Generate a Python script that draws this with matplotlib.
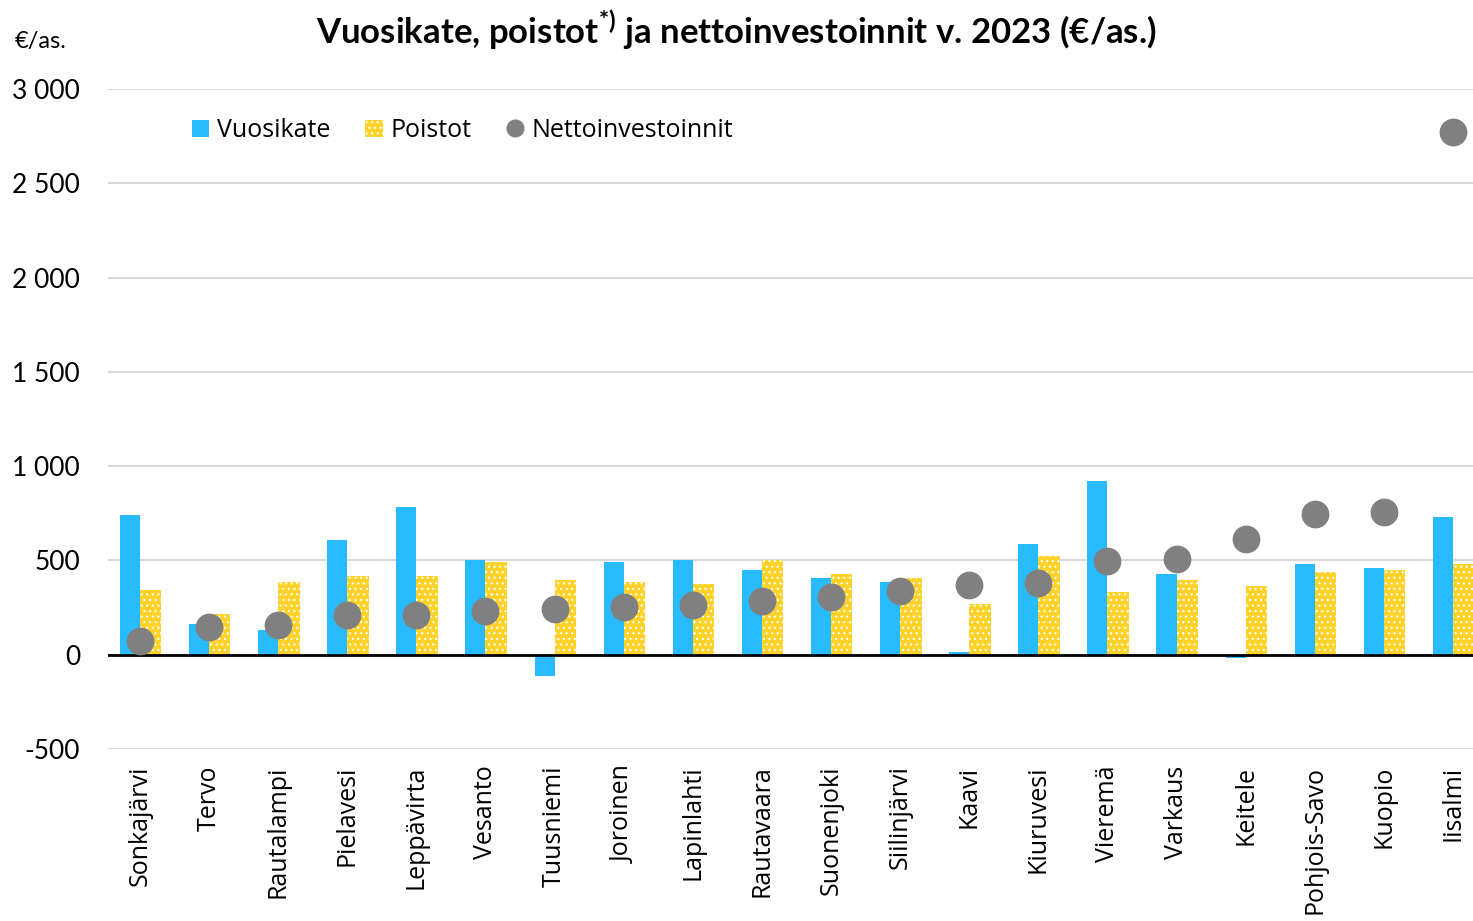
import numpy as np
import matplotlib
matplotlib.use("Agg")
import matplotlib.pyplot as plt
from matplotlib.lines import Line2D
from matplotlib.patches import Patch

# data (€/asukas)
kunnat = ["Sonkajärvi", "Tervo", "Rautalampi", "Pielavesi", "Leppävirta", "Vesanto",
          "Tuusniemi", "Joroinen", "Lapinlahti", "Rautavaara", "Suonenjoki", "Siilinjärvi",
          "Kaavi", "Kiuruvesi", "Vieremä", "Varkaus", "Keitele", "Pohjois-Savo", "Kuopio", "Iisalmi"]
vuosikate = [739, 162, 130, 610, 781, 503, -114, 493, 503, 450, 407, 386,
             13, 589, 920, 429, -18, 482, 461, 728]
poistot = [344, 215, 386, 418, 418, 493, 397, 386, 375, 503, 429, 407,
           269, 525, 333, 397, 365, 440, 450, 482]
nettoinv = [71, 147, 156, 210, 210, 231, 242, 253, 263, 285, 306, 338,
            370, 381, 498, 509, 616, 744, 755, 2770]
y_ticks = [-500, 0, 500, 1000, 1500, 2000, 2500, 3000]

blue = "#29BBFF"
yellow = "#FFD22A"
grey = "#808080"

plt.rcParams['font.family'] = ['Open Sans', 'DejaVu Sans']
plt.rcParams['hatch.color'] = 'white'
plt.rcParams['hatch.linewidth'] = 0.8
plt.rcParams['mathtext.fontset'] = 'custom'
plt.rcParams['mathtext.rm'] = 'Lato'
plt.rcParams['mathtext.bf'] = 'Lato:bold'

fig = plt.figure(figsize=(14.73, 9.21), dpi=100)
ax = fig.add_axes([0.0733, 0.1868, 0.9267, 0.7166])

x = np.arange(len(kunnat))
w = 0.29
ax.bar(x - w / 2, vuosikate, width=w, color=blue, zorder=2)
ax.bar(x + w / 2 + 0.01, poistot, width=w + 0.02, color=yellow, hatch='...',
       edgecolor='white', linewidth=0, zorder=2)
ax.plot(x, nettoinv, 'o', color=grey, markersize=19, zorder=3)

ax.set_ylim(-500, 3000)
ax.set_xlim(-0.463, 19.29)
ax.set_yticks(y_ticks)
ax.set_yticklabels([f"{v:,}".replace(",", " ") for v in y_ticks], fontsize=19, family='Lato')
ax.set_xticks(x)
ax.set_xticklabels(kunnat, rotation=90, fontsize=18)
ax.tick_params(length=0)
ax.tick_params(axis='y', pad=20)
ax.tick_params(axis='x', pad=12)

for s in ax.spines.values():
    s.set_visible(False)
ax.grid(axis='y', color='#D9D9D9', linewidth=1.5, zorder=0)
ax.set_axisbelow(True)
ax.axhline(0, color='black', linewidth=2, zorder=2.5)

handles = [Patch(facecolor=blue, label="Vuosikate"),
           Patch(facecolor=yellow, hatch='...', edgecolor='white', linewidth=0, label="Poistot"),
           Line2D([], [], marker='o', linestyle='none', color=grey, markersize=12,
                  label="Nettoinvestoinnit")]
ax.legend(handles=handles, loc='upper left', bbox_to_anchor=(0.045, 0.99), ncol=3,
          frameon=False, fontsize=18, handlelength=0.7, handleheight=0.7,
          handletextpad=0.3, columnspacing=1.4)

fig.text(0.5, 0.967, r"Vuosikate, poistot$^{\mathbf{*)}}$ ja nettoinvestoinnit v. 2023 (€/as.)",
         ha='center', va='center', fontsize=25, fontweight='bold', family='Lato')
fig.text(0.01, 0.955, "€/as.", ha='left', va='center', fontsize=17, family='Lato')

fig.savefig("out.png", dpi=100)
